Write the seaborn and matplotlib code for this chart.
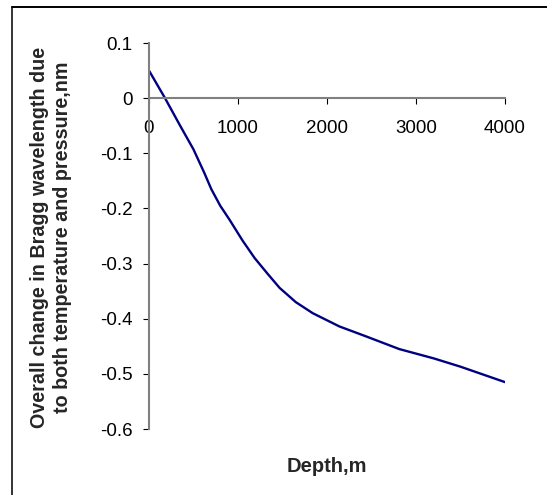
import matplotlib
matplotlib.use("Agg")
import matplotlib.pyplot as plt
import seaborn as sns
import pandas as pd
from matplotlib.lines import Line2D

depth = [0, 180, 350, 500, 620, 700, 800, 907, 1050, 1187, 1330, 1467, 1650, 1840,
         2139, 2438, 2811, 3200, 3500, 4000]
change = [0.05, 0.0, -0.05, -0.093, -0.135, -0.165, -0.195, -0.221, -0.258, -0.29,
          -0.318, -0.344, -0.37, -0.39, -0.414, -0.432, -0.455, -0.472, -0.487, -0.515]
xticks = [0, 1000, 2000, 3000, 4000]
yticks = [0.1, 0, -0.1, -0.2, -0.3, -0.4, -0.5, -0.6]
ytick_labels = ["0.1", "0", "-0.1", "-0.2", "-0.3", "-0.4", "-0.5", "-0.6"]

sns.set_style("white")
plt.rcParams['font.family'] = ['Liberation Sans', 'DejaVu Sans']

W, H = 547, 495
fig = plt.figure(figsize=(W / 100, H / 100), dpi=100)
ax = fig.add_axes([149 / W, 1 - 429 / H, (505 - 149) / W, (429 - 43) / H])

df = pd.DataFrame({"Depth": depth, "Change": change})
sns.lineplot(data=df, x="Depth", y="Change", ax=ax, color="#000080", linewidth=1.7, sort=False)

ax.set_xlim(0, 4000)
ax.set_ylim(-0.6, 0.1)
ax.set_xticks(xticks)
ax.set_xticklabels([str(t) for t in xticks])
ax.set_yticks(yticks)
ax.set_yticklabels(ytick_labels)

for s in ["top", "right"]:
    ax.spines[s].set_visible(False)
ax.spines["bottom"].set_position(("data", 0))
ax.spines["bottom"].set_color("#808080")
ax.spines["left"].set_color("#808080")
ax.spines["bottom"].set_linewidth(1.5)
ax.spines["left"].set_linewidth(1.5)

ax.tick_params(axis="both", which="major", direction="out", length=4, width=0.8,
               color="black", labelsize=13.5, labelcolor="black")
ax.tick_params(axis="x", pad=12)
ax.tick_params(axis="y", pad=8)
ax.tick_params(bottom=True, left=True)

ax.set_xlabel("")
ax.set_ylabel("")
fig.text(327 / W, 1 - 466 / H, "Depth,m", ha="center", va="center",
         fontsize=14.5, fontweight="bold")
fig.text(51 / W, 1 - 237 / H,
         "Overall change in Bragg wavelength due\nto both temperature and pressure,nm",
         ha="center", va="center", rotation=90, fontsize=14.2, fontweight="bold",
         linespacing=1.32)

fig.add_artist(Line2D([12 / W, 12 / W], [0, 1 - 7 / H], transform=fig.transFigure,
                      color="#333333", linewidth=1.4))
fig.add_artist(Line2D([12 / W, 1], [1 - 7 / H, 1 - 7 / H], transform=fig.transFigure,
                      color="black", linewidth=1.4))

fig.savefig("out.png", dpi=100)
